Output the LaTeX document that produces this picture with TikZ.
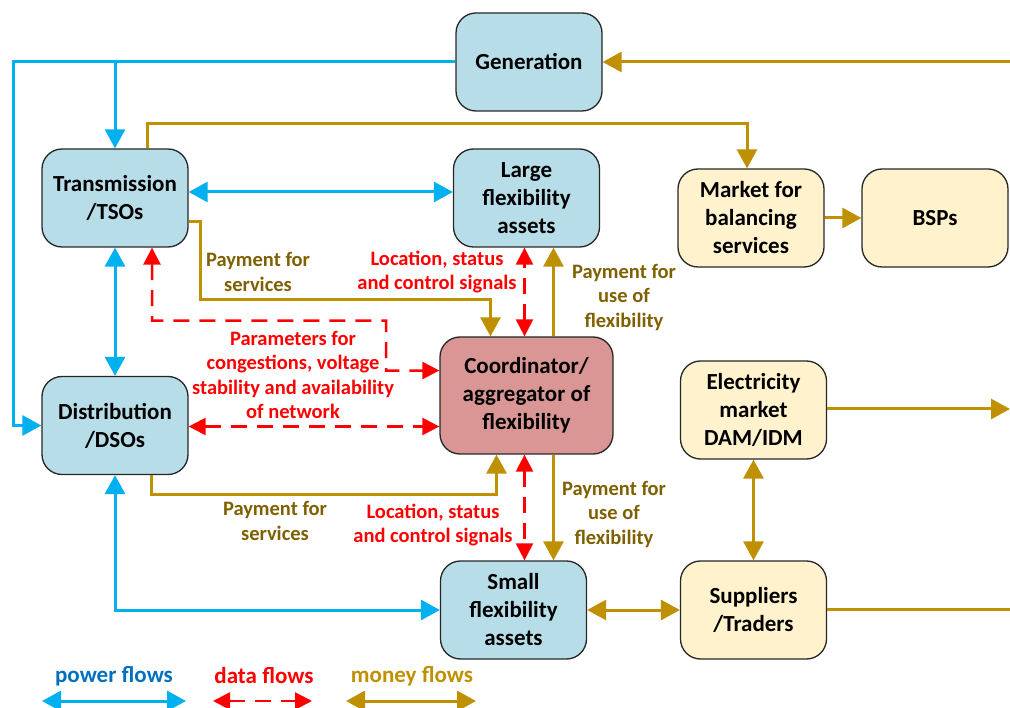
\documentclass[tikz,border=0pt]{standalone}
\usepackage{fontspec}
\setmainfont{Carlito}
\usetikzlibrary{arrows.meta}
\definecolor{pwr}{HTML}{00B0F0}
\definecolor{pwrtxt}{HTML}{0070C0}
\definecolor{dat}{HTML}{FF0000}
\definecolor{mon}{HTML}{BF9000}
\definecolor{montxt}{HTML}{7F6000}
\definecolor{boxblue}{HTML}{B7DEE8}
\definecolor{boxred}{HTML}{D99694}
\definecolor{boxyel}{HTML}{FFF2CC}
\tikzset{
  box/.style={draw=black!85,line width=1.3pt,rounded corners=20pt,minimum width=146pt,minimum height=98pt,
    align=center,inner sep=2pt,font=\fontsize{23}{28}\selectfont\bfseries},
  bbox/.style={box,fill=boxblue},
  ybox/.style={box,fill=boxyel},
  power/.style={pwr,line width=3pt,>={Triangle[length=19pt,width=20pt]}},
  money/.style={mon,line width=3pt,>={Triangle[length=19pt,width=20pt]}},
  data/.style={dat,line width=2.5pt,dash pattern=on 16pt off 10pt,>={Triangle[length=17pt,width=17pt]}},
  lbl/.style={align=center,inner sep=0pt,font=\fontsize{20.5}{24.5}\selectfont\bfseries},
}
\begin{document}
\begin{tikzpicture}[x=1pt,y=-1pt]
\useasboundingbox (0,0) rectangle (1010,708);
\node[bbox] (gen) at (529,62) {Generation};
\node[bbox] (tso) at (115,198) {Transmission\\/TSOs};
\node[bbox] (large) at (526.5,198) {Large\\flexibility\\assets};
\node[ybox] (mbs) at (751,218) {Market for\\balancing\\services};
\node[ybox] (bsp) at (935,218) {BSPs};
\node[box,fill=boxred,minimum width=173pt,minimum height=117pt] (cor) at (526.5,395.5) {Coordinator/\\aggregator of\\flexibility};
\node[bbox] (dso) at (115,425.5) {Distribution\\/DSOs};
\node[ybox] (elec) at (753.5,410) {Electricity\\market\\DAM/IDM};
\node[bbox] (small) at (513.5,610) {Small\\flexibility\\assets};
\node[ybox] (sup) at (753.5,610) {Suppliers\\/Traders};
\coordinate (gin) at (1010,62);\coordinate (eout) at (1010,409);\coordinate (sout) at (1010,609);
% power flows
\draw[power,->] (gen.west) -- ++(-442,0) |- (dso.west);
\draw[power,->] (tso.north |- gen.west) -- (tso.north);
\draw[power,<->] ([yshift=6pt]tso.east) -- ([yshift=6pt]large.west);
\draw[power,<->] (tso.south) -- (dso.north);
\draw[power,<->] (dso.south) |- (small.west);
% money flows
\draw[money,->] (gin) -- (gin -| gen.east);
\draw[money,->] ([xshift=32pt]tso.north) -- ++(0,-25) -| ([xshift=-4pt]mbs.north);
\draw[money,->] (mbs.east) -- (bsp.west);
\draw[money,->] ([yshift=-24pt]tso.east) -- ++(12,0) -- ++(0,78) -| ([xshift=-36pt]cor.north);
\draw[money,->] ([xshift=27pt]cor.north) -- ([xshift=27pt]cor.north |- large.south);
\draw[money,->] ([xshift=36pt]dso.south) -- ++(0,19) -| ([xshift=-30pt]cor.south);
\draw[money,->] ([xshift=27pt]cor.south) -- ([xshift=27pt]cor.south |- small.north);
\draw[money,->] (eout -| elec.east) -- (eout);
\draw[money,<->] (elec.south) -- (sup.north);
\draw[money,<->] (small.east) -- (sup.west);
\draw[money] (sout -| sup.east) -- (sout);
% data flows
\draw[data,<->] ([xshift=37pt]tso.south) -- ++(0,73) -| ++(234,50) -- ([yshift=25pt]cor.west);
\draw[data,<->] ([yshift=-1pt]dso.east) -- ([yshift=-1pt]dso.east -| cor.west);
\draw[data,<->] ([xshift=-2pt]cor.north) -- ([xshift=-2pt]cor.north |- large.south);
\draw[data,<->] ([xshift=-2pt]cor.south) -- ([xshift=-2pt]cor.south |- small.north);
% labels
\node[lbl,montxt] (pay1) at (258,272) {Payment for\\services};
\node[lbl,dat] (loc1) at (437,272) {Location, status\\and control signals};
\node[lbl,montxt] (use1) at (624,297) {Payment for\\use of\\flexibility};
\node[lbl,dat] (par) at (293,375) {Parameters for\\congestions, voltage\\stability and availability\\of network};
\node[lbl,montxt] (pay2) at (275,521) {Payment for\\services};
\node[lbl,dat] (loc2) at (433,525) {Location, status\\and control signals};
\node[lbl,montxt] (use2) at (614,514) {Payment for\\use of\\flexibility};
% legend
\node[lbl,pwrtxt,font=\fontsize{23}{28}\selectfont\bfseries] (lpw) at (114,676) {power flows};
\node[lbl,dat,font=\fontsize{23}{28}\selectfont\bfseries] (ldat) at (264,676) {data flows};
\node[lbl,mon,font=\fontsize{23}{28}\selectfont\bfseries] (lmon) at (412,676) {money flows};
\coordinate (pa) at (42,701);\coordinate (pb) at (186,701);
\coordinate (da) at (213,701);\coordinate (db) at (312,701);
\coordinate (ma) at (346,701);\coordinate (mb) at (476,701);
\draw[power,<->] (pa) -- (pb);
\draw[data,<->] (da) -- (db);
\draw[money,<->] (ma) -- (mb);
\end{tikzpicture}
\end{document}
